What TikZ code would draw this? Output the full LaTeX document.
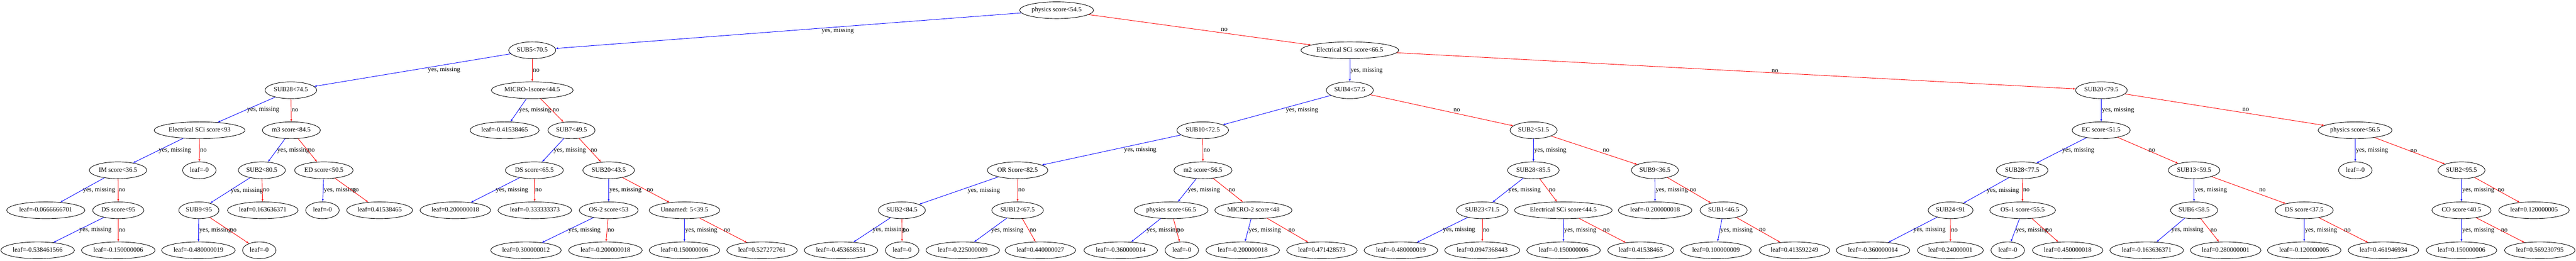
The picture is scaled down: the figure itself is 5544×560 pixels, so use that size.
\documentclass[tikz,border=0pt]{standalone}
\usepackage{fontspec}
\setmainfont{Liberation Serif}
\usetikzlibrary{shapes,arrows}
\tikzstyle{test} = [ellipse, draw, inner xsep=2.5pt,
    minimum width=72pt, minimum height=36pt, text height=9.5pt, text depth=3pt]
\tikzstyle{yesline} = [draw, -latex', blue]
\tikzstyle{noline} = [draw, -latex', red]
\tikzstyle{lab} = [anchor=west, inner sep=1pt, text=black, text height=9.5pt, text depth=3pt]

\begin{document}
\begin{tikzpicture}[x=1pt, y=-1pt, line width=1pt, font=\fontsize{14pt}{16pt}\selectfont]
	    \useasboundingbox (0,0) rectangle (5544,560);
	    % Place nodes
	    \node [test] (root) at (2274,22) {physics score<54.5};
	    \node [test] (sub5) at (1145.5,108) {SUB5<70.5};
	    \node [test] (elecA) at (2905,108) {Electrical SCi score<66.5};
	    \node [test] (sub28a) at (626,194) {SUB28<74.5};
	    \node [test] (micro1) at (1145.5,194) {MICRO-1score<44.5};
	    \node [test] (sub4) at (2905,194) {SUB4<57.5};
	    \node [test] (sub20a) at (4522.5,194) {SUB20<79.5};
	    \node [test] (elecB) at (429.5,280) {Electrical SCi score<93};
	    \node [test] (m3) at (627,280) {m3 score<84.5};
	    \node [test] (lf1) at (1086,280) {leaf=-0.41538465};
	    \node [test] (sub7) at (1230,280) {SUB7<49.5};
	    \node [test] (sub10) at (2588.5,280) {SUB10<72.5};
	    \node [test] (sub2a) at (3300.5,280) {SUB2<51.5};
	    \node [test] (ec) at (4522,280) {EC score<51.5};
	    \node [test] (physB) at (5068.5,280) {physics score<56.5};
	    \node [test] (im) at (254,366) {IM score<36.5};
	    \node [test] (lf2) at (429,366) {leaf=-0};
	    \node [test] (sub2b) at (563.5,366) {SUB2<80.5};
	    \node [test] (ed) at (697,366) {ED score<50.5};
	    \node [test] (dsA) at (1150,366) {DS score<65.5};
	    \node [test] (sub20b) at (1310,366) {SUB20<43.5};
	    \node [test] (orsc) at (2190,366) {OR Score<82.5};
	    \node [test] (m2) at (2589,366) {m2 score<56.5};
	    \node [test] (sub28b) at (3300,366) {SUB28<85.5};
	    \node [test] (sub9a) at (3561.5,366) {SUB9<36.5};
	    \node [test] (sub28c) at (4352,366) {SUB28<77.5};
	    \node [test] (sub13) at (4722,366) {SUB13<59.5};
	    \node [test] (lf3) at (5069,366) {leaf=-0};
	    \node [test] (sub2c) at (5297.5,366) {SUB2<95.5};
	    \node [test] (lf4) at (98.5,452) {leaf=-0.0666666701};
	    \node [test] (dsB) at (254.5,452) {DS score<95};
	    \node [test] (sub9b) at (428,452) {SUB9<95};
	    \node [test] (lf5) at (565.5,452) {leaf=0.163636371};
	    \node [test] (lf6) at (694,452) {leaf=-0};
	    \node [test] (lf7) at (817,452) {leaf=0.41538465};
	    \node [test] (lf8) at (980,452) {leaf=0.200000018};
	    \node [test] (lf9) at (1151,452) {leaf=-0.333333373};
	    \node [test] (os2) at (1310,452) {OS-2 score<53};
	    \node [test] (unn) at (1473,452) {Unnamed: 5<39.5};
	    \node [test] (sub2d) at (1941,452) {SUB2<84.5};
	    \node [test] (sub12) at (2190,452) {SUB12<67.5};
	    \node [test] (physC) at (2520.5,452) {physics score<66.5};
	    \node [test] (micro2) at (2697.5,452) {MICRO-2 score<48};
	    \node [test] (sub23) at (3190,452) {SUB23<71.5};
	    \node [test] (elecC) at (3364.5,452) {Electrical SCi score<44.5};
	    \node [test] (lf10) at (3562,452) {leaf=-0.200000018};
	    \node [test] (sub1) at (3709.5,452) {SUB1<46.5};
	    \node [test] (sub24) at (4198,452) {SUB24<91};
	    \node [test] (os1) at (4353,452) {OS-1 score<55.5};
	    \node [test] (sub6) at (4722,452) {SUB6<58.5};
	    \node [test] (dsC) at (4959,452) {DS score<37.5};
	    \node [test] (co) at (5297.5,452) {CO score<40.5};
	    \node [test] (lf11) at (5453.5,452) {leaf=0.120000005};
	    \node [test] (lf12) at (81,538) {leaf=-0.538461566};
	    \node [test] (lf13) at (254.5,538) {leaf=-0.150000006};
	    \node [test] (lf14) at (427,538) {leaf=-0.480000019};
	    \node [test] (lf15) at (558,538) {leaf=-0};
	    \node [test] (lf16) at (1132,538) {leaf=0.300000012};
	    \node [test] (lf17) at (1303,538) {leaf=-0.200000018};
	    \node [test] (lf18) at (1473,538) {leaf=0.150000006};
	    \node [test] (lf19) at (1640,538) {leaf=0.527272761};
	    \node [test] (lf20) at (1810,538) {leaf=-0.453658551};
	    \node [test] (lf21) at (1941.5,538) {leaf=-0};
	    \node [test] (lf22) at (2072,538) {leaf=-0.225000009};
	    \node [test] (lf23) at (2239,538) {leaf=0.440000027};
	    \node [test] (lf24) at (2412,538) {leaf=-0.360000014};
	    \node [test] (lf25) at (2543.5,538) {leaf=-0};
	    \node [test] (lf26) at (2674.5,538) {leaf=-0.200000018};
	    \node [test] (lf27) at (2845,538) {leaf=0.471428573};
	    \node [test] (lf28) at (3015,538) {leaf=-0.480000019};
	    \node [test] (lf29) at (3190,538) {leaf=0.0947368443};
	    \node [test] (lf30) at (3365,538) {leaf=-0.150000006};
	    \node [test] (lf31) at (3531,538) {leaf=0.41538465};
	    \node [test] (lf32) at (3693,538) {leaf=0.100000009};
	    \node [test] (lf33) at (3862,538) {leaf=0.413592249};
	    \node [test] (lf34) at (4031,538) {leaf=-0.360000014};
	    \node [test] (lf35) at (4197.5,538) {leaf=0.24000001};
	    \node [test] (lf36) at (4321,538) {leaf=-0};
	    \node [test] (lf37) at (4450,538) {leaf=0.450000018};
	    \node [test] (lf38) at (4620,538) {leaf=-0.163636371};
	    \node [test] (lf39) at (4790,538) {leaf=0.280000001};
	    \node [test] (lf40) at (4959,538) {leaf=-0.120000005};
	    \node [test] (lf41) at (5129.5,538) {leaf=0.461946934};
	    \node [test] (lf42) at (5297.5,538) {leaf=0.150000006};
	    \node [test] (lf43) at (5466,538) {leaf=0.569230795};
	    % Draw edges
	    \path [yesline] (root) -- node [lab, xshift=70] {yes, missing} (sub5);
	    \path [noline] (root) -- node [lab, xshift=44] {no} (elecA);
	    \path [yesline] (sub5) -- node [lab, xshift=32] {yes, missing} (sub28a);
	    \path [noline] (sub5) -- node [lab] {no} (micro1);
	    \path [yesline] (elecA) -- node [lab] {yes, missing} (sub4);
	    \path [noline] (elecA) -- node [lab, xshift=75] {no} (sub20a);
	    \path [yesline] (sub28a) -- node [lab] {yes, missing} (elecB);
	    \path [noline] (sub28a) -- node [lab] {no} (m3);
	    \path [yesline] (micro1) -- node [lab] {yes, missing} (lf1);
	    \path [noline] (micro1) -- node [lab] {no} (sub7);
	    \path [yesline] (sub4) -- node [lab, xshift=18] {yes, missing} (sub10);
	    \path [noline] (sub4) -- node [lab, xshift=24] {no} (sub2a);
	    \path [yesline] (sub20a) -- node [lab] {yes, missing} (ec);
	    \path [noline] (sub20a) -- node [lab, xshift=37] {no} (physB);
	    \path [yesline] (elecB) -- node [lab] {yes, missing} (im);
	    \path [noline] (elecB) -- node [lab] {no} (lf2);
	    \path [yesline] (m3) -- node [lab] {yes, missing} (sub2b);
	    \path [noline] (m3) -- node [lab] {no} (ed);
	    \path [yesline] (sub7) -- node [lab] {yes, missing} (dsA);
	    \path [noline] (sub7) -- node [lab] {no} (sub20b);
	    \path [yesline] (sub10) -- node [lab, xshift=26] {yes, missing} (orsc);
	    \path [noline] (sub10) -- node [lab] {no} (m2);
	    \path [yesline] (sub2a) -- node [lab] {yes, missing} (sub28b);
	    \path [noline] (sub2a) -- node [lab, xshift=17] {no} (sub9a);
	    \path [yesline] (ec) -- node [lab] {yes, missing} (sub28c);
	    \path [noline] (ec) -- node [lab] {no} (sub13);
	    \path [yesline] (physB) -- node [lab] {yes, missing} (lf3);
	    \path [noline] (physB) -- node [lab] {no} (sub2c);
	    \path [yesline] (im) -- node [lab] {yes, missing} (lf4);
	    \path [noline] (im) -- node [lab] {no} (dsB);
	    \path [yesline] (sub2b) -- node [lab] {yes, missing} (sub9b);
	    \path [noline] (sub2b) -- node [lab] {no} (lf5);
	    \path [yesline] (ed) -- node [lab] {yes, missing} (lf6);
	    \path [noline] (ed) -- node [lab] {no} (lf7);
	    \path [yesline] (dsA) -- node [lab] {yes, missing} (lf8);
	    \path [noline] (dsA) -- node [lab] {no} (lf9);
	    \path [yesline] (sub20b) -- node [lab] {yes, missing} (os2);
	    \path [noline] (sub20b) -- node [lab] {no} (unn);
	    \path [yesline] (orsc) -- node [lab, xshift=18] {yes, missing} (sub2d);
	    \path [noline] (orsc) -- node [lab] {no} (sub12);
	    \path [yesline] (m2) -- node [lab] {yes, missing} (physC);
	    \path [noline] (m2) -- node [lab] {no} (micro2);
	    \path [yesline] (sub28b) -- node [lab] {yes, missing} (sub23);
	    \path [noline] (sub28b) -- node [lab] {no} (elecC);
	    \path [yesline] (sub9a) -- node [lab] {yes, missing} (lf10);
	    \path [noline] (sub9a) -- node [lab] {no} (sub1);
	    \path [yesline] (sub28c) -- node [lab] {yes, missing} (sub24);
	    \path [noline] (sub28c) -- node [lab] {no} (os1);
	    \path [yesline] (sub13) -- node [lab] {yes, missing} (sub6);
	    \path [noline] (sub13) -- node [lab, xshift=21] {no} (dsC);
	    \path [yesline] (sub2c) -- node [lab] {yes, missing} (co);
	    \path [noline] (sub2c) -- node [lab] {no} (lf11);
	    \path [yesline] (dsB) -- node [lab] {yes, missing} (lf12);
	    \path [noline] (dsB) -- node [lab] {no} (lf13);
	    \path [yesline] (sub9b) -- node [lab] {yes, missing} (lf14);
	    \path [noline] (sub9b) -- node [lab] {no} (lf15);
	    \path [yesline] (os2) -- node [lab] {yes, missing} (lf16);
	    \path [noline] (os2) -- node [lab] {no} (lf17);
	    \path [yesline] (unn) -- node [lab] {yes, missing} (lf18);
	    \path [noline] (unn) -- node [lab] {no} (lf19);
	    \path [yesline] (sub2d) -- node [lab] {yes, missing} (lf20);
	    \path [noline] (sub2d) -- node [lab] {no} (lf21);
	    \path [yesline] (sub12) -- node [lab] {yes, missing} (lf22);
	    \path [noline] (sub12) -- node [lab] {no} (lf23);
	    \path [yesline] (physC) -- node [lab] {yes, missing} (lf24);
	    \path [noline] (physC) -- node [lab] {no} (lf25);
	    \path [yesline] (micro2) -- node [lab] {yes, missing} (lf26);
	    \path [noline] (micro2) -- node [lab] {no} (lf27);
	    \path [yesline] (sub23) -- node [lab] {yes, missing} (lf28);
	    \path [noline] (sub23) -- node [lab] {no} (lf29);
	    \path [yesline] (elecC) -- node [lab] {yes, missing} (lf30);
	    \path [noline] (elecC) -- node [lab] {no} (lf31);
	    \path [yesline] (sub1) -- node [lab] {yes, missing} (lf32);
	    \path [noline] (sub1) -- node [lab] {no} (lf33);
	    \path [yesline] (sub24) -- node [lab] {yes, missing} (lf34);
	    \path [noline] (sub24) -- node [lab] {no} (lf35);
	    \path [yesline] (os1) -- node [lab] {yes, missing} (lf36);
	    \path [noline] (os1) -- node [lab] {no} (lf37);
	    \path [yesline] (sub6) -- node [lab] {yes, missing} (lf38);
	    \path [noline] (sub6) -- node [lab] {no} (lf39);
	    \path [yesline] (dsC) -- node [lab] {yes, missing} (lf40);
	    \path [noline] (dsC) -- node [lab] {no} (lf41);
	    \path [yesline] (co) -- node [lab] {yes, missing} (lf42);
	    \path [noline] (co) -- node [lab] {no} (lf43);
	\end{tikzpicture}
\end{document}
